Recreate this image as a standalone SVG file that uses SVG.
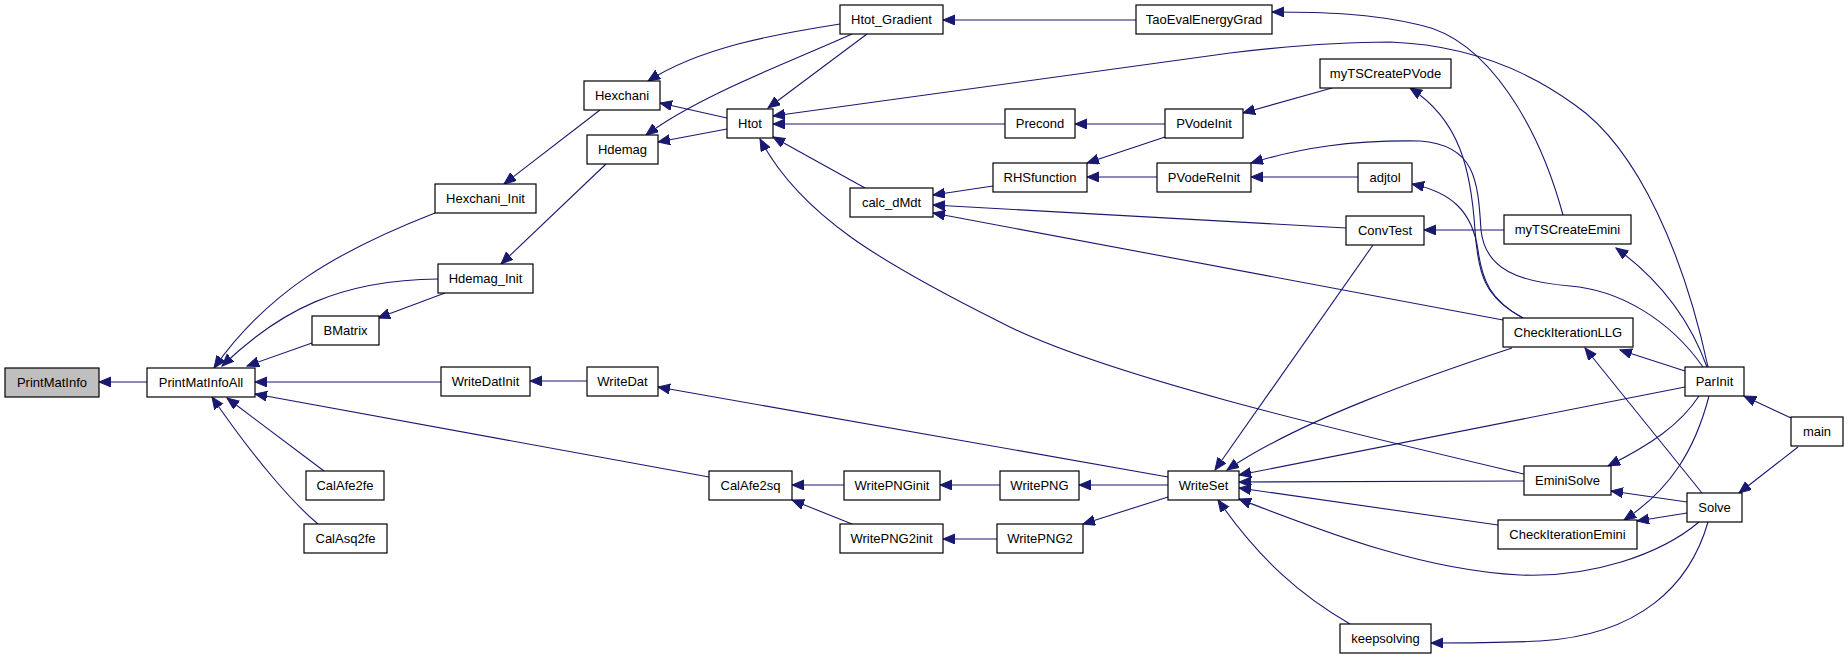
<svg xmlns="http://www.w3.org/2000/svg" width="1848" height="659" viewBox="0 0 1848 659">
<style>
.n rect{fill:#fff;stroke:#000;stroke-width:1.2}
.n text{font-family:"Liberation Sans",Arial,sans-serif;font-size:13px;fill:#000;text-anchor:middle}
#e path{fill:none;stroke:#191970;stroke-width:1.1;marker-end:url(#a)}
</style>
<defs>
<marker id="a" markerUnits="userSpaceOnUse" markerWidth="13" markerHeight="11" refX="12" refY="5" orient="auto">
<path d="M0,0 L12,5 L0,10 z" fill="#191970" stroke="#191970" stroke-width="1"/>
</marker>
</defs>
<rect width="1848" height="659" fill="#fff"/>
<g id="e">
<path d="M147,382 L99,382"/>
<path d="M435,213 C335,252 268,292 214,368"/>
<path d="M438,279 C340,280 280,310 222,366"/>
<path d="M312,343 L247,366"/>
<path d="M441,382 L255,382"/>
<path d="M709,477 L255,394"/>
<path d="M324,471 L227,398"/>
<path d="M318,524 C295,505 255,460 212,397"/>
<path d="M600,110 L504,184"/>
<path d="M606,164 L501,264"/>
<path d="M445,293 L378,318"/>
<path d="M587,381 L530,381"/>
<path d="M840,24 C770,35 700,48 648,81"/>
<path d="M852,34 C790,62 700,95 646,135"/>
<path d="M727,118 L660,103"/>
<path d="M727,129 L658,142"/>
<path d="M867,34 L768,108"/>
<path d="M1136,20 L943,20"/>
<path d="M1708,367 C1685,260 1640,150 1575,105 C1530,72 1470,45 1390,42 C1330,42 1280,47 1230,53 L773,116"/>
<path d="M1563,215 C1540,130 1490,40 1420,25 C1370,13 1320,12 1272,12"/>
<path d="M1332,88 L1243,113"/>
<path d="M1523,318 C1485,298 1478,275 1475,230 C1471,170 1460,120 1410,88"/>
<path d="M1703,367 C1670,320 1620,290 1570,286 C1520,282 1485,270 1481,230 C1478,180 1475,145 1420,141 C1350,140 1300,148 1251,163"/>
<path d="M1523,318 C1490,300 1482,280 1478,250 C1472,210 1450,192 1412,184"/>
<path d="M1358,177 L1251,177"/>
<path d="M1504,230 L1424,230"/>
<path d="M1346,228 L933,205"/>
<path d="M1503,320 L933,213"/>
<path d="M1005,124 L773,124"/>
<path d="M1165,124 L1075,124"/>
<path d="M1165,137 L1087,163"/>
<path d="M1157,177 L1087,177"/>
<path d="M993,186 L933,195"/>
<path d="M865,188 L773,137"/>
<path d="M1524,474 C1350,433 1100,375 1000,322 C880,262 800,215 760,139"/>
<path d="M1687,502 L1611,491"/>
<path d="M1687,513 L1637,521"/>
<path d="M1702,493 L1585,348"/>
<path d="M1685,371 L1620,350"/>
<path d="M1707,367 C1690,320 1660,280 1616,248"/>
<path d="M1685,387 L1239,475"/>
<path d="M1699,396 C1680,425 1650,445 1608,466"/>
<path d="M1709,396 C1695,450 1670,490 1624,520"/>
<path d="M1791,418 L1744,396"/>
<path d="M1798,447 L1739,493"/>
<path d="M1512,348 C1430,375 1300,420 1227,470"/>
<path d="M1373,245 L1215,470"/>
<path d="M1524,481 L1239,482"/>
<path d="M1498,525 L1239,488"/>
<path d="M1699,522 C1660,555 1590,578 1520,575 C1420,570 1320,530 1239,499"/>
<path d="M1350,624 C1300,595 1260,560 1218,500"/>
<path d="M1708,522 C1690,585 1640,635 1540,641 C1500,643 1470,643 1431,643"/>
<path d="M1168,477 L658,387"/>
<path d="M1168,485 L1079,485"/>
<path d="M1000,485 L940,485"/>
<path d="M844,485 L792,485"/>
<path d="M852,524 L792,500"/>
<path d="M997,539 L943,539"/>
<path d="M1168,497 L1083,524"/>
</g>
<g id="PrintMatInfo" class="n"><rect x="5" y="368" width="94" height="29" style="fill:#bfbfbf"/><text x="52" y="387">PrintMatInfo</text></g>
<g id="PrintMatInfoAll" class="n"><rect x="147" y="368" width="108" height="29"/><text x="201" y="387">PrintMatInfoAll</text></g>
<g id="Hexchani_Init" class="n"><rect x="435" y="184" width="101" height="29"/><text x="485.5" y="203">Hexchani_Init</text></g>
<g id="Hdemag_Init" class="n"><rect x="438" y="264" width="95" height="29"/><text x="485.5" y="283">Hdemag_Init</text></g>
<g id="BMatrix" class="n"><rect x="312" y="316" width="67" height="29"/><text x="345.5" y="335">BMatrix</text></g>
<g id="WriteDatInit" class="n"><rect x="441" y="367" width="89" height="29"/><text x="485.5" y="386">WriteDatInit</text></g>
<g id="CalAfe2fe" class="n"><rect x="306" y="471" width="78" height="29"/><text x="345" y="490">CalAfe2fe</text></g>
<g id="CalAsq2fe" class="n"><rect x="304" y="524" width="83" height="29"/><text x="345.5" y="543">CalAsq2fe</text></g>
<g id="Hexchani" class="n"><rect x="584" y="81" width="76" height="29"/><text x="622" y="100">Hexchani</text></g>
<g id="Hdemag" class="n"><rect x="587" y="135" width="71" height="29"/><text x="622.5" y="154">Hdemag</text></g>
<g id="WriteDat" class="n"><rect x="587" y="367" width="71" height="29"/><text x="622.5" y="386">WriteDat</text></g>
<g id="Htot" class="n"><rect x="727" y="109" width="46" height="29"/><text x="750" y="128">Htot</text></g>
<g id="Htot_Gradient" class="n"><rect x="840" y="5" width="103" height="29"/><text x="891.5" y="24">Htot_Gradient</text></g>
<g id="calc_dMdt" class="n"><rect x="850" y="188" width="83" height="29"/><text x="891.5" y="207">calc_dMdt</text></g>
<g id="CalAfe2sq" class="n"><rect x="709" y="471" width="83" height="29"/><text x="750.5" y="490">CalAfe2sq</text></g>
<g id="WritePNGinit" class="n"><rect x="844" y="471" width="96" height="29"/><text x="892" y="490">WritePNGinit</text></g>
<g id="WritePNG2init" class="n"><rect x="840" y="524" width="103" height="29"/><text x="891.5" y="543">WritePNG2init</text></g>
<g id="TaoEvalEnergyGrad" class="n"><rect x="1136" y="5" width="136" height="29"/><text x="1204" y="24">TaoEvalEnergyGrad</text></g>
<g id="Precond" class="n"><rect x="1005" y="109" width="70" height="29"/><text x="1040" y="128">Precond</text></g>
<g id="RHSfunction" class="n"><rect x="993" y="163" width="94" height="29"/><text x="1040" y="182">RHSfunction</text></g>
<g id="WritePNG" class="n"><rect x="1000" y="471" width="79" height="29"/><text x="1039.5" y="490">WritePNG</text></g>
<g id="WritePNG2" class="n"><rect x="997" y="524" width="86" height="29"/><text x="1040" y="543">WritePNG2</text></g>
<g id="PVodeInit" class="n"><rect x="1165" y="109" width="78" height="29"/><text x="1204" y="128">PVodeInit</text></g>
<g id="PVodeReInit" class="n"><rect x="1157" y="163" width="94" height="29"/><text x="1204" y="182">PVodeReInit</text></g>
<g id="WriteSet" class="n"><rect x="1168" y="471" width="71" height="29"/><text x="1203.5" y="490">WriteSet</text></g>
<g id="myTSCreatePVode" class="n"><rect x="1320" y="59" width="131" height="29"/><text x="1385.5" y="78">myTSCreatePVode</text></g>
<g id="adjtol" class="n"><rect x="1358" y="163" width="54" height="29"/><text x="1385" y="182">adjtol</text></g>
<g id="ConvTest" class="n"><rect x="1346" y="216" width="78" height="29"/><text x="1385" y="235">ConvTest</text></g>
<g id="keepsolving" class="n"><rect x="1340" y="624" width="91" height="29"/><text x="1385.5" y="643">keepsolving</text></g>
<g id="myTSCreateEmini" class="n"><rect x="1504" y="215" width="127" height="29"/><text x="1567.5" y="234">myTSCreateEmini</text></g>
<g id="CheckIterationLLG" class="n"><rect x="1503" y="318" width="130" height="29"/><text x="1568" y="337">CheckIterationLLG</text></g>
<g id="EminiSolve" class="n"><rect x="1524" y="466" width="87" height="29"/><text x="1567.5" y="485">EminiSolve</text></g>
<g id="CheckIterationEmini" class="n"><rect x="1498" y="520" width="139" height="29"/><text x="1567.5" y="539">CheckIterationEmini</text></g>
<g id="ParInit" class="n"><rect x="1685" y="367" width="59" height="29"/><text x="1714.5" y="386">ParInit</text></g>
<g id="Solve" class="n"><rect x="1687" y="493" width="55" height="29"/><text x="1714.5" y="512">Solve</text></g>
<g id="main" class="n"><rect x="1791" y="417" width="52" height="29"/><text x="1817" y="436">main</text></g>
</svg>
